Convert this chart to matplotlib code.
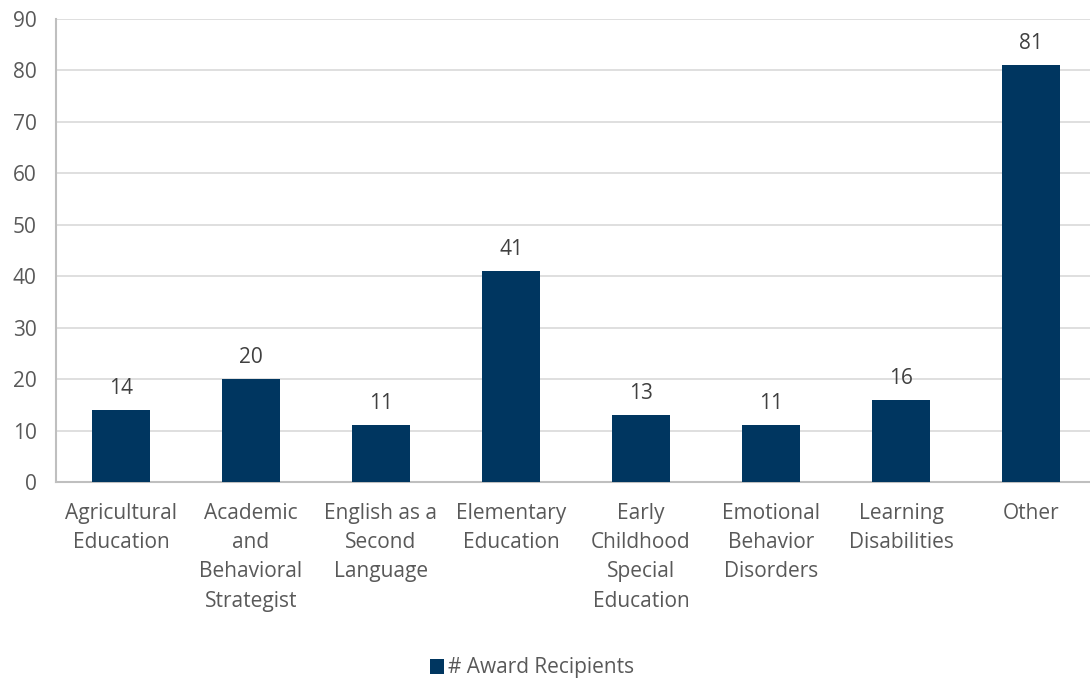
import matplotlib
matplotlib.use("Agg")
import matplotlib.pyplot as plt
import numpy as np

categories = ["Agricultural\nEducation", "Academic\nand\nBehavioral\nStrategist",
              "English as a\nSecond\nLanguage", "Elementary\nEducation",
              "Early\nChildhood\nSpecial\nEducation", "Emotional\nBehavior\nDisorders",
              "Learning\nDisabilities", "Other"]
values = [14, 20, 11, 41, 13, 11, 16, 81]
series_name = "# Award Recipients"
yticks = [0, 10, 20, 30, 40, 50, 60, 70, 80, 90]

plt.rcParams['font.family'] = ['Open Sans', 'DejaVu Sans']
color = "#003660"
text_color = "#595959"
fs = 15

fig = plt.figure(figsize=(10.9, 6.83), dpi=100)
ax = fig.add_axes([56/1090, 1-482/683, 1040/1090, (482-19)/683])
x = np.arange(len(categories))
bars = ax.bar(x, values, width=0.45, color=color, label=series_name, zorder=3)
for xi, v in zip(x, values):
    ax.annotate(str(v), (xi, v), xytext=(0, 8), textcoords="offset points",
                ha="center", va="bottom", fontsize=fs, color="#404040")
ax.set_xlim(-0.5, len(categories) - 0.5)
ax.set_ylim(0, 90)
ax.set_yticks(yticks)
ax.set_xticks(x)
ax.set_xticklabels(categories, fontsize=fs, color=text_color, linespacing=1.52, va="top")
ax.tick_params(axis="y", labelsize=fs, labelcolor=text_color, length=0, pad=14)
ax.tick_params(axis="x", length=0, pad=15)
ax.grid(axis="y", color="#d9d9d9", linewidth=1.2, zorder=0)
for s in ["top", "right"]:
    ax.spines[s].set_visible(False)
for s in ["left", "bottom"]:
    ax.spines[s].set_color("#bfbfbf")
    ax.spines[s].set_linewidth(1.5)
leg = fig.legend(handles=[bars], labels=[series_name], loc="center", bbox_to_anchor=(532/1090, 1-668/683),
                 frameon=False, fontsize=fs, handlelength=0.7, handleheight=0.7, handletextpad=0.2)
for t in leg.get_texts():
    t.set_color(text_color)
fig.savefig("out.png", dpi=100)
